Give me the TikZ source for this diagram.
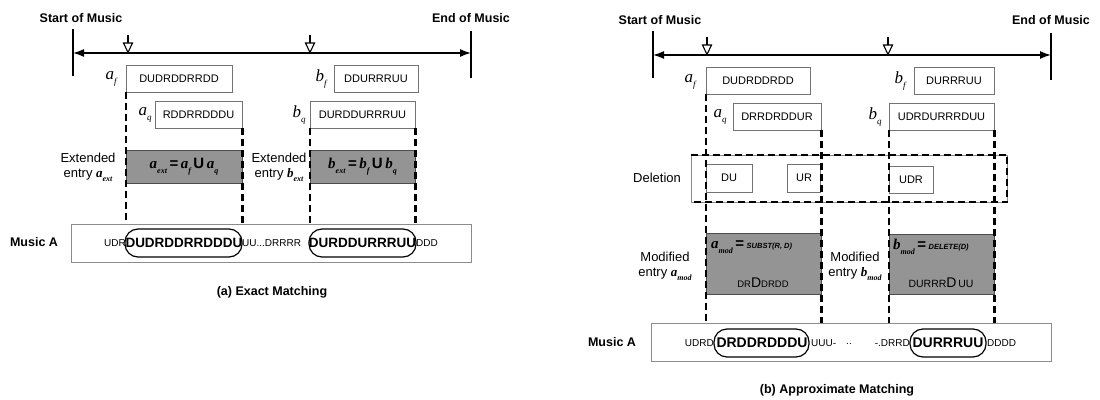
\documentclass[tikz,border=0pt]{standalone}
\usepackage{fontspec}
\setmainfont{Liberation Sans}
\newfontfamily\tmsfont{Liberation Serif}
\usetikzlibrary{arrows.meta}
\newcommand\sy[2]{{\tmsfont\itshape #1}\raisebox{-0.6ex}{\fontsize{9}{9}\selectfont\tmsfont\itshape #2}}
\newcommand\bsy[2]{{\tmsfont\bfseries\itshape #1}\raisebox{-0.6ex}{\fontsize{8}{8}\selectfont\tmsfont\bfseries\itshape #2}}
\begin{document}
\begin{tikzpicture}[x=1pt,y=-1pt,
  seqbox/.style={draw=black!55, line width=0.8pt, fill=white, inner sep=0pt, font=\fontsize{11}{13}\selectfont},
  graybox/.style={draw=black!70, line width=0.8pt, fill=black!42, inner sep=0pt},
  musbox/.style={draw=black!45, line width=0.8pt, fill=white, inner sep=0pt},
  dashline/.style={line width=2.2pt, dash pattern=on 7pt off 4pt},
  oval/.style={draw, line width=1.2pt, rounded corners=13pt, inner sep=0pt, fill=none},
  bar/.style={line width=1.8pt},
  timeline/.style={line width=1.5pt, {Latex[length=11pt,width=8pt]}-{Latex[length=11pt,width=8pt]}},
  title/.style={font=\fontsize{12.5}{14}\selectfont\bfseries},
  lab/.style={font=\fontsize{17}{18}\selectfont, inner sep=0pt},
  side/.style={font=\fontsize{13}{15}\selectfont, align=center, inner sep=0pt},
  big/.style={font=\fontsize{13.5}{15}\selectfont\bfseries, inner sep=0pt},
  small/.style={font=\fontsize{10}{12}\selectfont, inner sep=0pt},
  caption/.style={font=\fontsize{12.5}{14}\selectfont\bfseries},
  marker/.style={line width=1.1pt}
]
\useasboundingbox (0,0) rectangle (1100,399);

% ================= Panel (a) =================
\node[title] (starta) at (81,18) {Start of Music};
\node[title] (enda) at (471,18) {End of Music};
\coordinate (sba) at (73,53);
\coordinate (eba) at (471,53);
\draw[bar] (73,29) -- (73,76);
\draw[bar] (471,31) -- (471,78);
\draw[timeline] (sba) -- (eba);
% markers
\draw[marker] (128,35) -- (128,43);
\draw[marker, fill=white] (123.5,43) -- (132.5,43) -- (128,52.5) -- cycle;
\draw[marker] (310,35) -- (310,43);
\draw[marker, fill=white] (305.5,43) -- (314.5,43) -- (310,52.5) -- cycle;

% sequence boxes
\node[seqbox, minimum width=106pt, minimum height=27pt] (afa) at (179,78.5) {DUDRDDRRDD};
\node[lab] (lafa) at (111,79) {\sy{a}{f}};
\node[seqbox, minimum width=87pt, minimum height=27pt] (aqa) at (198.5,114.5) {RDDRRDDDU};
\node[lab] (laqa) at (145,115) {\sy{a}{q}};
\node[seqbox, minimum width=84pt, minimum height=27pt] (bfa) at (376,78.5) {DDURRRUU};
\node[lab] (lbfa) at (321,79) {\sy{b}{f}};
\node[seqbox, minimum width=105pt, minimum height=27pt] (bqa) at (362.5,114.5) {DURDDURRRUU};
\node[lab] (lbqa) at (299,115) {\sy{b}{q}};

% gray extended boxes
\node[graybox, minimum width=116pt, minimum height=33pt] (axa) at (184,166.5) {\fontsize{15}{16}\selectfont\bsy{a}{ext}\,{\bfseries=}\,\bsy{a}{f}\,{\bfseries U}\,\bsy{a}{q}};
\node[graybox, minimum width=105pt, minimum height=33pt] (bxa) at (362.5,166.5) {\fontsize{15}{16}\selectfont\bsy{b}{ext}\,{\bfseries=}\,\bsy{b}{f}\,{\bfseries U}\,\bsy{b}{q}};
\node[side] (exta) at (88,167) {Extended\\entry \bsy{a}{ext}};
\node[side] (extb) at (279,167) {Extended\\entry \bsy{b}{ext}};

% music A box
\node[musbox, minimum width=400pt, minimum height=38pt] (musa) at (271,243) {};
\node[font=\fontsize{12.5}{14}\selectfont\bfseries] (mlaba) at (34,242) {Music A};
\node[big] (m1a) at (184,243) {DUDRDDRRDDDU};
\node[small, anchor=east] (m0a) at (126,243) {UDR};
\node[small, anchor=west] (m2a) at (242,243) {UU...DRRRR};
\node[big] (m3a) at (362.5,243) {DURDDURRRUU};
\node[small, anchor=west] (m4a) at (416,243) {DDD};
\node[oval, minimum width=117pt, minimum height=28pt] (o1a) at (183.5,243) {};
\node[oval, minimum width=107pt, minimum height=28pt] (o2a) at (362.5,243) {};

% dashed guides
\draw[dashline] (afa.south west) -- (afa.south west |- musa.north);
\draw[dashline] (aqa.south east) -- (aqa.south east |- musa.north);
\draw[dashline] (bqa.south west) -- (bqa.south west |- musa.north);
\draw[dashline] (bqa.south east) -- (bqa.south east |- musa.north);

\node[caption] (capa) at (272,292) {(a) Exact Matching};

% ================= Panel (b) =================
\node[title] (startb) at (660,20) {Start of Music};
\node[title] (endb) at (1051,20) {End of Music};
\coordinate (sbb) at (653,55);
\coordinate (ebb) at (1051,55);
\draw[bar] (653,31) -- (653,78);
\draw[bar] (1051,33) -- (1051,80);
\draw[timeline] (sbb) -- (ebb);
\draw[marker] (707,37) -- (707,45);
\draw[marker, fill=white] (702.5,45) -- (711.5,45) -- (707,54.5) -- cycle;
\draw[marker] (888,37) -- (888,45);
\draw[marker, fill=white] (883.5,45) -- (892.5,45) -- (888,54.5) -- cycle;

\node[seqbox, minimum width=104pt, minimum height=27pt] (afb) at (758,80.5) {DUDRDDRDD};
\node[lab] (lafb) at (690,82) {\sy{a}{f}};
\node[seqbox, minimum width=88pt, minimum height=27pt] (aqb) at (777,116.5) {DRRDRDDUR};
\node[lab] (laqb) at (720,117) {\sy{a}{q}};
\node[seqbox, minimum width=80pt, minimum height=27pt] (bfb) at (954,80.5) {DURRRUU};
\node[lab] (lbfb) at (900,81) {\sy{b}{f}};
\node[seqbox, minimum width=105pt, minimum height=27pt] (bqb) at (941.5,116.5) {UDRDURRRDUU};
\node[lab] (lbqb) at (875,117) {\sy{b}{q}};

% deletion band
\node[draw=black!45, line width=0.6pt, minimum width=316pt, minimum height=47pt, inner sep=0pt] (delb) at (849,178.5) {};
\draw[dashline] (delb.north west) -- (delb.north east) -- (delb.south east) -- (delb.south west);
\node[side] (dellab) at (657,178) {Deletion};
\node[seqbox, minimum width=46pt, minimum height=28pt] (dub) at (729,178) {DU};
\node[seqbox, minimum width=33pt, minimum height=28pt] (urb) at (804,178) {UR};
\node[seqbox, minimum width=44pt, minimum height=27pt] (udrb) at (911,179.5) {UDR};

% modified gray boxes
\node[graybox, minimum width=115pt, minimum height=61pt] (amb) at (763.5,263.5) {};
\node[anchor=west, inner sep=0pt] (amf) at (711,247) {\fontsize{15}{16}\selectfont\bsy{a}{mod}\,{\bfseries=}\,{\fontsize{7.5}{8}\selectfont\bfseries\itshape SUBST(R, D)}};
\node[inner sep=0pt] (amt) at (763,283) {\fontsize{9.5}{11}\selectfont DR{\fontsize{14}{15}\selectfont D}DRDD};
\node[graybox, minimum width=105pt, minimum height=60pt] (bmb) at (941.5,264) {};
\node[anchor=west, inner sep=0pt] (bmf) at (893,247) {\fontsize{15}{16}\selectfont\bsy{b}{mod}\,{\bfseries=}\,{\fontsize{7.5}{8}\selectfont\bfseries\itshape DELETE(D)}};
\node[inner sep=0pt] (bmt) at (941,283) {\fontsize{10.5}{11}\selectfont DURRR{\fontsize{14}{15}\selectfont D}\,UU};
\node[side] (moda) at (665,266) {Modified\\entry \bsy{a}{mod}};
\node[side] (modb) at (855,266) {Modified\\entry \bsy{b}{mod}};

% music A box (b)
\node[musbox, minimum width=400pt, minimum height=38pt] (musb) at (851,342) {};
\node[font=\fontsize{12.5}{14}\selectfont\bfseries] (mlabb) at (612,342) {Music A};
\node[big, font=\fontsize{14}{15}\selectfont\bfseries] (m1b) at (762,343) {DRDDRDDDU};
\node[small, anchor=east] (m0b) at (714,343) {UDRD};
\node[small, anchor=west] (m2b) at (811,343) {UUU-};
\node[small] (m2c) at (849,344) {..};
\node[small, anchor=east] (m2d) at (910,343) {-.DRRD};
\node[big, font=\fontsize{14}{15}\selectfont\bfseries] (m3b) at (948,343) {DURRRUU};
\node[small, anchor=west] (m4b) at (987,343) {DDDD};
\node[oval, minimum width=95pt, minimum height=28pt] (o1b) at (761.5,343) {};
\node[oval, minimum width=76pt, minimum height=28pt] (o2b) at (948,343) {};

\draw[dashline] (afb.south west) -- (afb.south west |- musb.north);
\draw[dashline] (aqb.south east) -- (aqb.south east |- musb.north);
\draw[dashline] (bqb.south west) -- (bqb.south west |- musb.north);
\draw[dashline] (bqb.south east) -- (bqb.south east |- musb.north);

\node[caption] (capb) at (837,390) {(b) Approximate Matching};
\end{tikzpicture}
\end{document}
